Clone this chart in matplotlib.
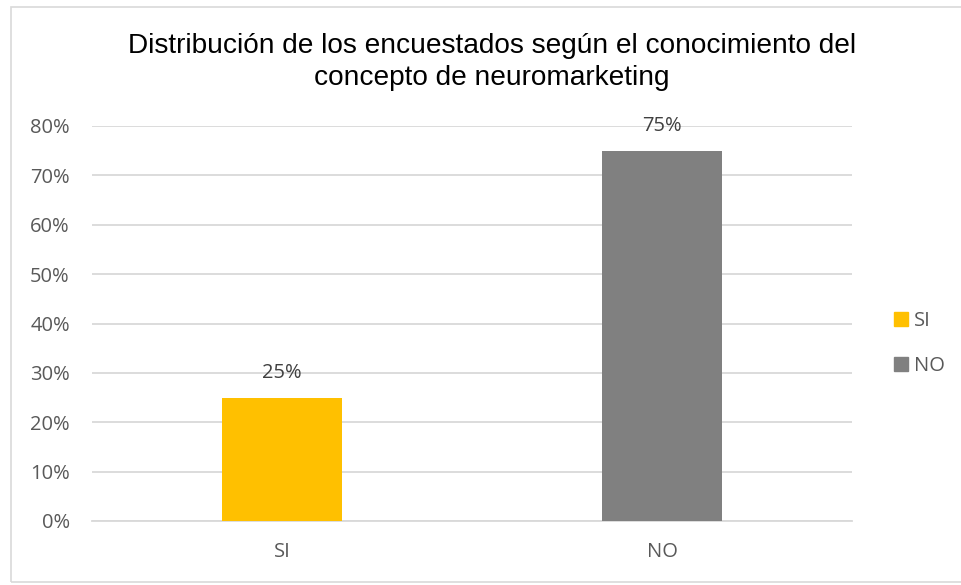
import matplotlib.pyplot as plt
from matplotlib.patches import Rectangle
from matplotlib.ticker import FuncFormatter

# Datos del gráfico
categorias = ["SI", "NO"]
valores = [0.25, 0.75]
colores = ["#FFC000", "#808080"]
etiquetas_datos = ["25%", "75%"]
ticks_y = [0.0, 0.1, 0.2, 0.3, 0.4, 0.5, 0.6, 0.7, 0.8]

titulo = ("Distribución de los encuestados según el conocimiento del\n"
          "concepto de neuromarketing")

fig = plt.figure(figsize=(9.62, 5.85), dpi=100)
ax = fig.add_axes([92 / 962, 64 / 585, 760 / 962, 395 / 585])

# Marco exterior del gráfico
fig.patches.append(Rectangle((11 / 962, 3 / 585), 1.2, 575 / 585,
                             transform=fig.transFigure, fill=False,
                             edgecolor="#d9d9d9", linewidth=1.2))

x = range(len(categorias))
barras = ax.bar(x, valores, width=0.315, color=colores, zorder=3)

for b, txt in zip(barras, etiquetas_datos):
    ax.annotate(txt, (b.get_x() + b.get_width() / 2, b.get_height()),
                xytext=(0, 18), textcoords="offset points",
                ha="center", va="center", fontsize=14.5, color="#404040",
                family="Open Sans", zorder=4)

ax.set_xlim(-0.5, 1.5)
ax.set_ylim(0, 0.8)
ax.set_yticks(ticks_y)
ax.yaxis.set_major_formatter(FuncFormatter(lambda v, _: f"{v * 100:.0f}%"))
ax.set_xticks(list(x))
ax.set_xticklabels(categorias)

for lbl in ax.get_xticklabels() + ax.get_yticklabels():
    lbl.set_family("Open Sans")
    lbl.set_fontsize(14.5)
    lbl.set_color("#595959")

ax.tick_params(axis="both", length=0)
ax.tick_params(axis="y", pad=16)
ax.tick_params(axis="x", pad=15)
ax.grid(axis="y", color="#d9d9d9", linewidth=1.3, zorder=0)
for s in ["top", "right", "left"]:
    ax.spines[s].set_visible(False)
ax.spines["bottom"].set_color("#d9d9d9")
ax.spines["bottom"].set_linewidth(1.3)

fig.text(492 / 962, 1 - 62 / 585, titulo, ha="center", va="center",
         fontsize=20.2, family="Liberation Sans", color="#000000",
         linespacing=1.27)

# Leyenda
handles = [Rectangle((0, 0), 1, 1, color=c) for c in colores]
fig.legend(handles, categorias, loc="center left",
           bbox_to_anchor=(876 / 962, 1 - 343.5 / 585), frameon=False,
           prop={"family": "Open Sans", "size": 14.5}, labelcolor="#595959",
           handlelength=0.7, handleheight=0.7, handletextpad=0.3,
           labelspacing=1.25)

fig.savefig("out.png", dpi=100)
